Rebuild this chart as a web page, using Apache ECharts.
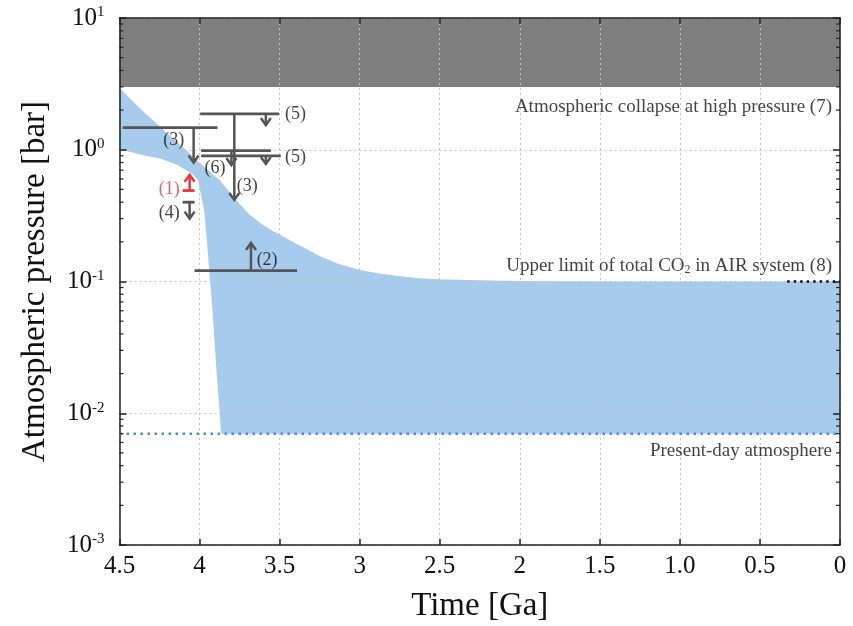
<!DOCTYPE html>
<html>
<head>
<meta charset="utf-8">
<script src="https://cdn.jsdelivr.net/npm/echarts@6/dist/echarts.min.js"></script>
<style>html,body{margin:0;padding:0;background:#fff;}#c{width:853px;height:626px;}</style>
</head>
<body>
<div id="c"></div>
<script>
// ---- data ----
const xTickValues = [4.5, 4, 3.5, 3, 2.5, 2, 1.5, 1, 0.5, 0];
const xTickLabels = ['4.5', '4', '3.5', '3', '2.5', '2', '1.5', '1.0', '0.5', '0'];
const yMinorMultipliers = [2, 3, 4, 5, 6, 7, 8, 9];
const yMinorDecades = [0.001, 0.01, 0.1, 1];

// upper boundary of allowed region
const tUpper = [4.5, 4.37, 4.248, 4.15, 4.062, 3.97, 3.876, 3.814, 3.75, 3.689, 3.625, 3.565, 3.503, 3.41, 3.317, 3.255, 3.13, 3.006, 2.88, 2.758, 2.63, 2.51, 2.26, 2.01, 1.51, 0];
const pUpper = [2.94, 2.05, 1.50, 1.17, 0.94, 0.74, 0.589, 0.48, 0.39, 0.322, 0.280, 0.250, 0.228, 0.198, 0.173, 0.157, 0.136, 0.123, 0.115, 0.110, 0.106, 0.104, 0.102, 0.101, 0.100, 0.100];
// lower boundary of allowed region
const tLower = [4.5, 4.43, 4.354, 4.248, 4.15, 4.083, 4.04, 4.01, 3.99, 3.97, 3.95, 3.935, 3.92, 3.896, 3.865, 0];
const pLower = [1.0, 0.96, 0.91, 0.86, 0.78, 0.70, 0.65, 0.59, 0.45, 0.34, 0.175, 0.105, 0.062, 0.0225, 0.007, 0.007];

// collapse band
const collapseP = [3, 10];
// reference lines
const presentDayP = 0.007;
const presentDayT = [4.5, 0];
const upperLimitP = 0.1;
const upperLimitT = [0.33, 0];

// constraint bars
const segT1 = [3.996, 4.48, 3.99, 3.99, 4.106, 4.106, 4.031];
const segT2 = [3.503, 3.888, 3.555, 3.493, 4.031, 4.031, 3.391];
const segP  = [1.87, 1.47, 0.984, 0.90, 0.49, 0.40, 0.121];
const segRed = [false, false, false, false, true, false, false];
// arrows
const arrT = [3.586, 3.783, 4.037, 3.801, 3.586, 4.062, 4.062, 3.679];
const arrFrom = [1.87, 1.87, 1.47, 0.984, 0.90, 0.49, 0.40, 0.121];
const arrTo = [1.54, 0.416, 0.80, 0.766, 0.78, 0.645, 0.30, 0.196];
const arrRed = [false, false, false, false, false, true, false, false];
// labels
const labT = [3.401, 3.401, 4.161, 3.904, 3.702, 4.189, 4.189, 3.578];
const labP = [1.87, 0.88, 1.19, 0.727, 0.53, 0.50, 0.33, 0.146];
const labText = ['(5)', '(5)', '(3)', '(6)', '(3)', '(1)', '(4)', '(2)'];
const labRed = [false, false, false, false, false, true, false, false];

// right-side annotations
const noteT = [0.05, 0.05, 0.05];
const noteP = [2.11, 0.131, 0.00517];
const noteText = ['Atmospheric collapse at high pressure (7)', '{n|Upper limit of total CO}{sub|2}{n| in AIR system (8)}', 'Present-day atmosphere'];

const FONT = 'Liberation Serif';
const GRAY = '#555555';
const RED = '#e8383d';
const INK = '#111';

const chart = echarts.init(document.getElementById('c'), null, {renderer: 'canvas'});

function yLabel(v) {
  const e = Math.round(Math.log10(v));
  return '{b|10}{s|' + e + '}';
}

const xBase = {
  type: 'value', min: 0, max: 4.5, interval: 0.5, inverse: true,
  axisLine: {show: true, onZero: false, lineStyle: {color: '#222', width: 1.5}},
  axisTick: {show: true, inside: true, length: 6, lineStyle: {color: '#222', width: 1.5}},
};
const yBase = {
  type: 'log', logBase: 10, min: 0.001, max: 10,
  axisLine: {show: true, onZero: false, lineStyle: {color: '#222', width: 1.5}},
  axisTick: {show: true, inside: true, length: 7, lineStyle: {color: '#222', width: 1.5}},
};

const option = {
  animation: false,
  backgroundColor: '#fff',
  grid: {left: 119.5, right: 13, top: 18, bottom: 81, containLabel: false, outerBoundsMode: 'none'},
  xAxis: [
    Object.assign({}, xBase, {
      position: 'bottom',
      name: 'Time [Ga]', nameLocation: 'middle', nameGap: 45,
      nameTextStyle: {fontFamily: FONT, fontSize: 33, color: INK},
      axisLabel: {
        margin: 9, fontFamily: FONT, fontSize: 25, color: INK,
        formatter: function (v) {
          for (let i = 0; i < xTickValues.length; i++) {
            if (Math.abs(xTickValues[i] - v) < 1e-6) return xTickLabels[i];
          }
          return '';
        }
      },
      splitLine: {show: true, lineStyle: {color: '#c4c4c4', width: 1, type: [2, 3]}}
    }),
    Object.assign({}, xBase, {
      position: 'top', axisLabel: {show: false}, splitLine: {show: false}
    })
  ],
  yAxis: [
    Object.assign({}, yBase, {
      position: 'left',
      name: 'Atmospheric pressure [bar]', nameLocation: 'middle', nameGap: 68, nameRotate: 90,
      nameTextStyle: {fontFamily: FONT, fontSize: 33, color: INK},
      axisLabel: {
        margin: 15, fontFamily: FONT, color: INK,
        formatter: yLabel,
        rich: {
          b: {fontFamily: FONT, fontSize: 25, color: INK, lineHeight: 26},
          s: {fontFamily: FONT, fontSize: 15, color: INK, verticalAlign: 'top', lineHeight: 15}
        }
      },
      splitLine: {show: true, lineStyle: {color: '#c4c4c4', width: 1, type: [2, 3]}}
    }),
    Object.assign({}, yBase, {
      position: 'right', axisLabel: {show: false}, splitLine: {show: false}
    })
  ],
  series: [
    {
      type: 'custom', z: -1, silent: true, clip: true,
      data: [[4.5, 5]],
      renderItem: function (params, api) {
        const a = api.coord([4.5, collapseP[0]]);
        const b = api.coord([0, collapseP[1]]);
        return {
          type: 'rect',
          shape: {x: a[0], y: b[1], width: b[0] - a[0], height: a[1] - b[1]},
          style: {fill: '#7f7f7f'}
        };
      }
    },
    {
      type: 'custom', z: -1, silent: true,
      data: [[4.5, 1]],
      renderItem: function (params, api) {
        const pts = [];
        for (let i = 0; i < tUpper.length; i++) pts.push(api.coord([tUpper[i], pUpper[i]]));
        for (let i = tLower.length - 1; i >= 0; i--) pts.push(api.coord([tLower[i], pLower[i]]));
        return {type: 'polygon', shape: {points: pts}, style: {fill: '#a7cbec'}};
      }
    },
    {
      type: 'line', symbol: 'none', silent: true, z: 3,
      data: presentDayT.map(t => [t, presentDayP]),
      lineStyle: {color: '#4d8fd1', width: 2.5, type: [2.5, 4.5]}
    },
    {
      type: 'line', symbol: 'none', silent: true, z: 3,
      data: upperLimitT.map(t => [t, upperLimitP]),
      lineStyle: {color: '#111', width: 2.5, type: [2.5, 4]}
    },
    {
      type: 'custom', silent: true, z: 4,
      data: [[4.5, 1]],
      renderItem: function (params, api) {
        const children = [];
        yMinorDecades.forEach(function (d) {
          yMinorMultipliers.forEach(function (m) {
            const v = d * m;
            const l = api.coord([4.5, v]);
            const r = api.coord([0, v]);
            children.push({type: 'line', shape: {x1: l[0], y1: l[1], x2: l[0] + 4, y2: l[1]}, style: {stroke: '#222', lineWidth: 1.2}});
            children.push({type: 'line', shape: {x1: r[0], y1: r[1], x2: r[0] - 4, y2: r[1]}, style: {stroke: '#222', lineWidth: 1.2}});
          });
        });
        return {type: 'group', children: children};
      }
    },
    {
      type: 'custom', silent: true, z: 5,
      data: segP.map((p, i) => [segT1[i], p, i]),
      renderItem: function (params, api) {
        const i = api.value(2);
        const a = api.coord([segT1[i], segP[i]]);
        const b = api.coord([segT2[i], segP[i]]);
        return {type: 'line', shape: {x1: a[0], y1: a[1], x2: b[0], y2: b[1]},
          style: {stroke: segRed[i] ? RED : GRAY, lineWidth: 2.8}};
      }
    },
    {
      type: 'custom', silent: true, z: 5,
      data: arrT.map((t, i) => [t, arrFrom[i], i]),
      renderItem: function (params, api) {
        const i = api.value(2);
        const a = api.coord([arrT[i], arrFrom[i]]);
        const b = api.coord([arrT[i], arrTo[i]]);
        const dir = b[1] > a[1] ? 1 : -1;
        const col = arrRed[i] ? RED : GRAY;
        return {
          type: 'group',
          children: [
            {type: 'line', shape: {x1: a[0], y1: a[1], x2: b[0], y2: b[1]}, style: {stroke: col, lineWidth: 2.5}},
            {type: 'polyline', shape: {points: [[b[0] - 5, b[1] - dir * 7], [b[0], b[1]], [b[0] + 5, b[1] - dir * 7]]},
              style: {stroke: col, lineWidth: 2.5, fill: null}}
          ]
        };
      }
    },
    {
      type: 'scatter', silent: true, symbolSize: 0, z: 6,
      data: labP.map((p, i) => ({
        value: [labT[i], p],
        label: {show: true, position: 'inside', formatter: labText[i], fontFamily: FONT, fontSize: 18,
          color: labRed[i] ? RED : INK}
      }))
    },
    {
      type: 'scatter', silent: true, symbolSize: 0, z: 6,
      data: noteP.map((p, i) => ({
        value: [noteT[i], p],
        label: {show: true, position: 'left', distance: 0, formatter: noteText[i], fontFamily: FONT, fontSize: 19, color: INK,
          rich: {
            n: {fontFamily: FONT, fontSize: 19, color: INK},
            sub: {fontFamily: FONT, fontSize: 12, color: INK, verticalAlign: 'bottom', padding: [8, 0, 0, 0]}
          }}
      }))
    }
  ]
};
chart.setOption(option);
</script>
</body>
</html>
